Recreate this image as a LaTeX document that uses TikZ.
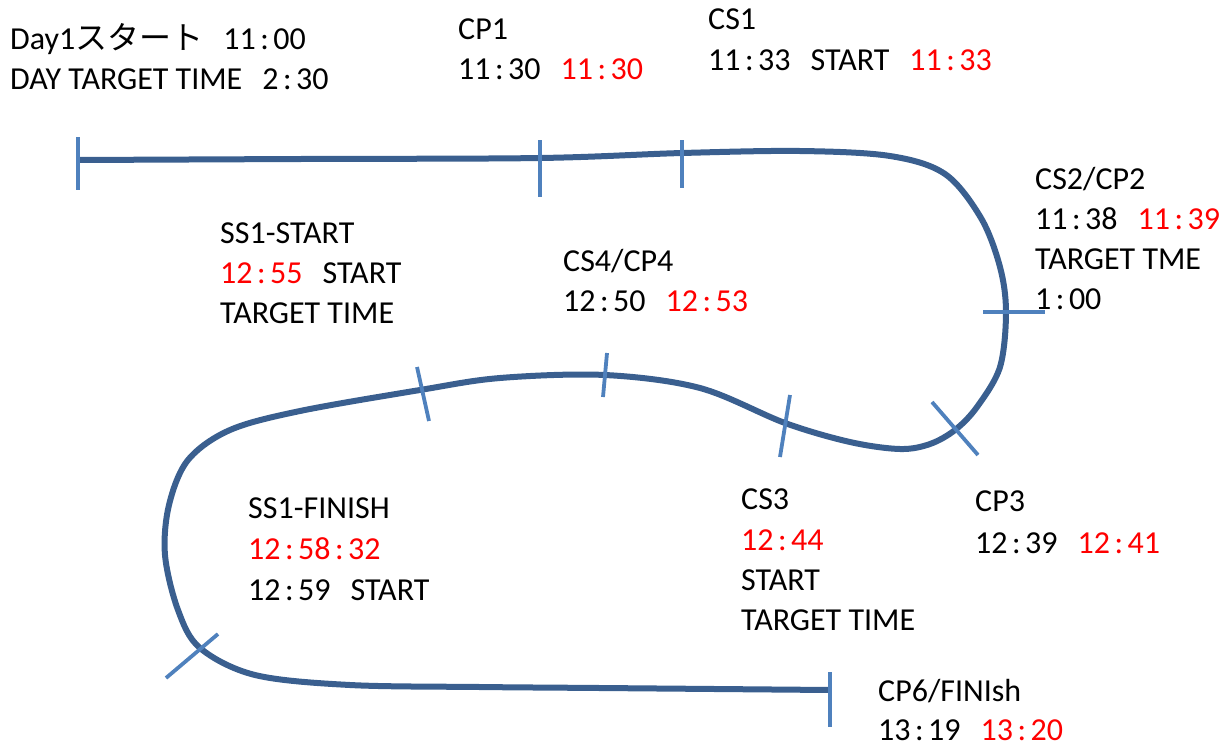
\documentclass[tikz,border=0pt]{standalone}
\usepackage{fontspec}
\setmainfont{Carlito}
\newfontfamily\jpfont{Noto Sans CJK JP}
\definecolor{route}{HTML}{3A5F8F}
\definecolor{tick}{HTML}{4F81BD}
\definecolor{redtxt}{HTML}{FF0000}
\newcommand{\cln}{\kern4.5pt:\kern4.5pt}
\newcommand{\rd}[1]{\textcolor{redtxt}{#1}}
\tikzset{
  lbl/.style={anchor=base west, inner sep=0pt, font=\fontsize{32}{40}\selectfont},
  routeline/.style={route, line width=6pt},
  tickline/.style={tick, line width=3.8pt}
}
\begin{document}
\begin{tikzpicture}[x=1pt,y=-1pt]
\useasboundingbox (0,0) rectangle (1227,745);
% route
\draw[routeline] plot[smooth, tension=0.55] coordinates {
(78,160) (300,159) (540,158) (682,153) (800,151) (890,156) (945,174) (981,218) (1000,267) (1006,312) (1000,367) (977,407) (955,430) (930,444) (900,449) (850,442) (785,423) (700,388) (605,375) (500,378) (420,390) (300,411) (230,430) (188,460) (169,505) (165,555) (178,610) (200,648) (255,675) (350,685) (480,687) (600,688) (830,690)};
% ticks
\draw[tickline] (78,137) -- (78,190);
\draw[tickline] (540,140) -- (540,197);
\draw[tickline] (682,140) -- (682,188);
\draw[tickline] (983,312) -- (1045,312);
\draw[tickline] (932,402) -- (978,455);
\draw[tickline] (790,395) -- (780,457);
\draw[tickline] (607,353) -- (603,397);
\draw[tickline] (417,367) -- (429,421);
\draw[tickline] (218,634) -- (166,678);
\draw[tickline] (830,672) -- (830,727);
% labels
\node[lbl] (d1) at (10,49) {Day1{\jpfont スタート}\hspace{20pt}11\cln00};
\node[lbl] (d2) at (10,89) {DAY TARGET TIME\hspace{20pt}2\cln30};
\node[lbl] (cp1a) at (458,39) {CP1};
\node[lbl] (cp1b) at (458,79) {11\cln30\hspace{20pt}\rd{11\cln30}};
\node[lbl] (cs1a) at (708,29) {CS1};
\node[lbl] (cs1b) at (708,70) {11\cln33\hspace{20pt}START\hspace{20pt}\rd{11\cln33}};
\node[lbl] (cs2a) at (1035,189) {CS2/CP2};
\node[lbl] (cs2b) at (1035,229) {11\cln38\hspace{20pt}\rd{11\cln39}};
\node[lbl] (cs2c) at (1035,269) {TARGET TME};
\node[lbl] (cs2d) at (1035,309) {1\cln00};
\node[lbl] (ssa) at (220,243) {SS1-START};
\node[lbl] (ssb) at (220,283) {\rd{12\cln55}\hspace{20pt}START};
\node[lbl] (ssc) at (220,323) {TARGET TIME};
\node[lbl] (cs4a) at (563,271) {CS4/CP4};
\node[lbl] (cs4b) at (563,311) {12\cln50\hspace{20pt}\rd{12\cln53}};
\node[lbl] (sfa) at (248,518) {SS1-FINISH};
\node[lbl] (sfb) at (248,559) {\rd{12\cln58\cln32}};
\node[lbl] (sfc) at (248,600) {12\cln59\hspace{20pt}START};
\node[lbl] (cs3a) at (741,509) {CS3};
\node[lbl] (cs3b) at (741,550) {\rd{12\cln44}};
\node[lbl] (cs3c) at (741,590) {START};
\node[lbl] (cs3d) at (741,630) {TARGET TIME};
\node[lbl] (cp3a) at (975,511) {CP3};
\node[lbl] (cp3b) at (975,553) {12\cln39\hspace{20pt}\rd{12\cln41}};
\node[lbl] (cp6a) at (878,701) {CP6/FINIsh};
\node[lbl] (cp6b) at (878,740) {13\cln19\hspace{20pt}\rd{13\cln20}};
\end{tikzpicture}
\end{document}
